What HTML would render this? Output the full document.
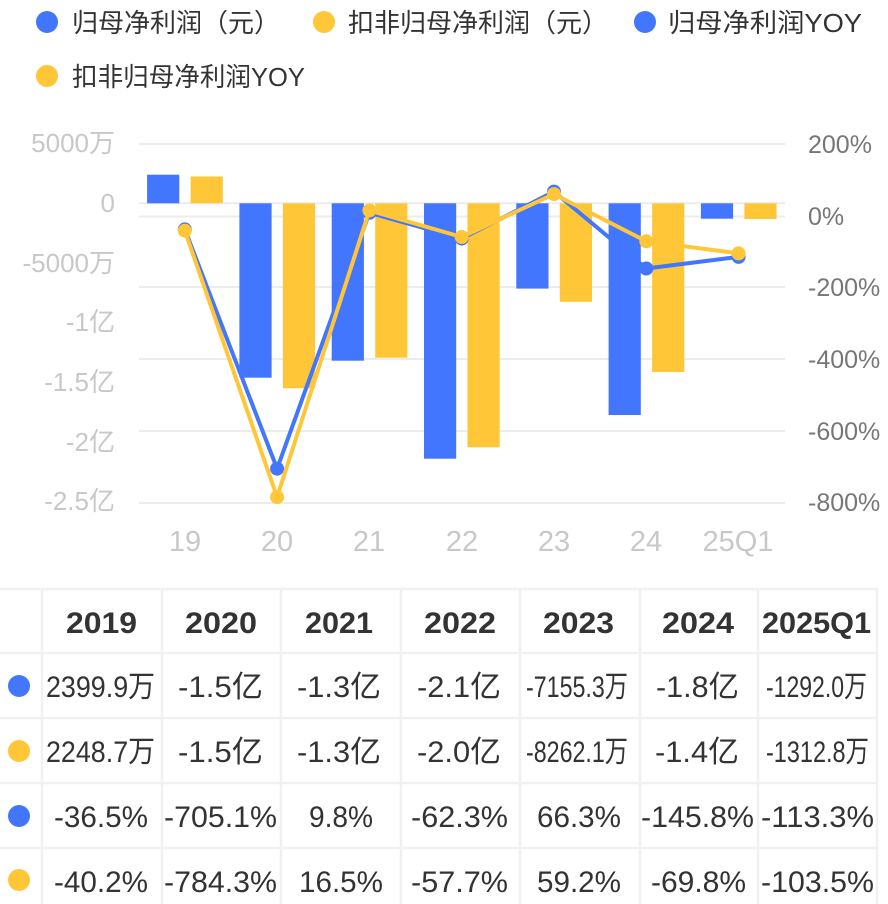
<!DOCTYPE html>
<html><head><meta charset="utf-8"><style>
html,body{margin:0;padding:0;background:#fff;}
svg{display:block;}
text{font-family:"Liberation Sans","Noto Sans CJK SC",sans-serif;}
</style></head><body>
<svg width="888" height="904" viewBox="0 0 888 904" xmlns="http://www.w3.org/2000/svg">
<rect width="888" height="904" fill="#fff"/>
<!-- legend -->
<g font-size="26" fill="#333">
<circle cx="47" cy="22" r="11" fill="#4376FE"/>
<text x="72" y="32">归母净利润（元）</text>
<circle cx="324" cy="22" r="11" fill="#FFC738"/>
<text x="348" y="32">扣非归母净利润（元）</text>
<circle cx="645" cy="22" r="11" fill="#4376FE"/>
<text x="668" y="32" textLength="194" lengthAdjust="spacingAndGlyphs">归母净利润YOY</text>
<circle cx="47" cy="76" r="11" fill="#FFC738"/>
<text x="72" y="86" textLength="233" lengthAdjust="spacingAndGlyphs">扣非归母净利润YOY</text>
</g>
<!-- gridlines -->
<g stroke="#ececec" stroke-width="2">
<line x1="139" y1="144" x2="785" y2="144"/>
<line x1="139" y1="203.3" x2="785" y2="203.3"/>
<line x1="139" y1="216.5" x2="785" y2="216.5"/>
<line x1="139" y1="287" x2="785" y2="287"/>
<line x1="139" y1="359" x2="785" y2="359"/>
<line x1="139" y1="431" x2="785" y2="431"/>
<line x1="139" y1="503" x2="785" y2="503"/>
</g>
<!-- left axis -->
<g font-size="26" fill="#c8c8c8" text-anchor="end">
<text x="115" y="152">5000万</text>
<text x="115" y="212">0</text>
<text x="115" y="272">-5000万</text>
<text x="115" y="331">-1亿</text>
<text x="115" y="391">-1.5亿</text>
<text x="115" y="451">-2亿</text>
<text x="115" y="510">-2.5亿</text>
</g>
<!-- right axis -->
<g font-size="25" fill="#777">
<text x="808" y="153">200%</text>
<text x="808" y="225">0%</text>
<text x="808" y="296">-200%</text>
<text x="808" y="368">-400%</text>
<text x="808" y="440">-600%</text>
<text x="808" y="511">-800%</text>
</g>
<!-- x axis -->
<g font-size="29" fill="#c8c8c8" text-anchor="middle">
<text x="185" y="551">19</text>
<text x="277" y="551">20</text>
<text x="369" y="551">21</text>
<text x="462" y="551">22</text>
<text x="554" y="551">23</text>
<text x="646" y="551">24</text>
<text x="738" y="551">25Q1</text>
</g>
<!-- bars -->
<g fill="#4376FE">
<rect x="147.1" y="174.7" width="32.2" height="28.6"/>
<rect x="239.4" y="203.3" width="32.2" height="174.4"/>
<rect x="331.7" y="203.3" width="32.2" height="157.4"/>
<rect x="424" y="203.3" width="32.2" height="255.4"/>
<rect x="516.3" y="203.3" width="32.2" height="85.3"/>
<rect x="608.6" y="203.3" width="32.2" height="211.7"/>
<rect x="700.9" y="203.3" width="32.2" height="15.4"/>
</g>
<g fill="#FFC738">
<rect x="190.6" y="176.5" width="32.2" height="26.8"/>
<rect x="282.9" y="203.3" width="32.2" height="185"/>
<rect x="375.2" y="203.3" width="32.2" height="154.4"/>
<rect x="467.5" y="203.3" width="32.2" height="244"/>
<rect x="559.8" y="203.3" width="32.2" height="98.5"/>
<rect x="652.1" y="203.3" width="32.2" height="168.7"/>
<rect x="744.4" y="203.3" width="32.2" height="15.7"/>
</g>
<!-- lines -->
<polyline fill="none" stroke="#4376FE" stroke-width="4" stroke-linejoin="round" points="184.8,229.4 277.1,468.7 369.4,212.8 461.7,238.6 554,191.6 646.3,268.5 738.6,256.9"/>
<g fill="#4376FE">
<circle cx="184.8" cy="229.4" r="7"/><circle cx="277.1" cy="468.7" r="7"/><circle cx="369.4" cy="212.8" r="7"/><circle cx="461.7" cy="238.6" r="7"/><circle cx="554" cy="191.6" r="7"/><circle cx="646.3" cy="268.5" r="7"/><circle cx="738.6" cy="256.9" r="7"/>
</g>
<polyline fill="none" stroke="#FFC738" stroke-width="4" stroke-linejoin="round" points="184.8,230.7 277.1,497.1 369.4,210.4 461.7,237 554,194.1 646.3,241.3 738.6,253.4"/>
<g fill="#FFC738">
<circle cx="184.8" cy="230.7" r="7"/><circle cx="277.1" cy="497.1" r="7"/><circle cx="369.4" cy="210.4" r="7"/><circle cx="461.7" cy="237" r="7"/><circle cx="554" cy="194.1" r="7"/><circle cx="646.3" cy="241.3" r="7"/><circle cx="738.6" cy="253.4" r="7"/>
</g>
<!-- table grid -->
<g stroke="#f1f1f4" stroke-width="2.5">
<line x1="0" y1="589" x2="878" y2="589"/>
<line x1="0" y1="653" x2="878" y2="653"/>
<line x1="0" y1="718" x2="878" y2="718"/>
<line x1="0" y1="783" x2="878" y2="783"/>
<line x1="0" y1="848" x2="878" y2="848"/>
<line x1="42" y1="589" x2="42" y2="904"/>
<line x1="162" y1="589" x2="162" y2="904"/>
<line x1="281" y1="589" x2="281" y2="904"/>
<line x1="401" y1="589" x2="401" y2="904"/>
<line x1="520" y1="589" x2="520" y2="904"/>
<line x1="640" y1="589" x2="640" y2="904"/>
<line x1="758" y1="589" x2="758" y2="904"/>
<line x1="877" y1="589" x2="877" y2="904"/>
</g>
<!-- header -->
<g font-size="30" font-weight="bold" fill="#333">
<text x="66" y="633" textLength="71" lengthAdjust="spacingAndGlyphs">2019</text>
<text x="185" y="633" textLength="72" lengthAdjust="spacingAndGlyphs">2020</text>
<text x="305" y="633" textLength="68" lengthAdjust="spacingAndGlyphs">2021</text>
<text x="424" y="633" textLength="72" lengthAdjust="spacingAndGlyphs">2022</text>
<text x="543" y="633" textLength="71" lengthAdjust="spacingAndGlyphs">2023</text>
<text x="662" y="633" textLength="72" lengthAdjust="spacingAndGlyphs">2024</text>
<text x="762" y="633" textLength="109" lengthAdjust="spacingAndGlyphs">2025Q1</text>
</g>
<!-- row dots -->
<circle cx="19" cy="686" r="11" fill="#4376FE"/>
<circle cx="19" cy="751" r="11" fill="#FFC738"/>
<circle cx="19" cy="816" r="11" fill="#4376FE"/>
<circle cx="19" cy="880" r="11" fill="#FFC738"/>
<g font-size="30" fill="#333">
<text x="46" y="697" textLength="109" lengthAdjust="spacingAndGlyphs">2399.9万</text>
<text x="178" y="697" textLength="85" lengthAdjust="spacingAndGlyphs">-1.5亿</text>
<text x="297" y="697" textLength="84" lengthAdjust="spacingAndGlyphs">-1.3亿</text>
<text x="417" y="697" textLength="84" lengthAdjust="spacingAndGlyphs">-2.1亿</text>
<text x="526" y="697" textLength="102" lengthAdjust="spacingAndGlyphs">-7155.3万</text>
<text x="656" y="697" textLength="83" lengthAdjust="spacingAndGlyphs">-1.8亿</text>
<text x="766" y="697" textLength="101" lengthAdjust="spacingAndGlyphs">-1292.0万</text>

<text x="46" y="762" textLength="109" lengthAdjust="spacingAndGlyphs">2248.7万</text>
<text x="178" y="762" textLength="85" lengthAdjust="spacingAndGlyphs">-1.5亿</text>
<text x="297" y="762" textLength="84" lengthAdjust="spacingAndGlyphs">-1.3亿</text>
<text x="417" y="762" textLength="84" lengthAdjust="spacingAndGlyphs">-2.0亿</text>
<text x="526" y="762" textLength="102" lengthAdjust="spacingAndGlyphs">-8262.1万</text>
<text x="655" y="762" textLength="84" lengthAdjust="spacingAndGlyphs">-1.4亿</text>
<text x="766" y="762" textLength="103" lengthAdjust="spacingAndGlyphs">-1312.8万</text>

<text x="54" y="827" textLength="94" lengthAdjust="spacingAndGlyphs">-36.5%</text>
<text x="164" y="827" textLength="113" lengthAdjust="spacingAndGlyphs">-705.1%</text>
<text x="309" y="827" textLength="64" lengthAdjust="spacingAndGlyphs">9.8%</text>
<text x="411" y="827" textLength="97" lengthAdjust="spacingAndGlyphs">-62.3%</text>
<text x="537" y="827" textLength="84" lengthAdjust="spacingAndGlyphs">66.3%</text>
<text x="641" y="827" textLength="113" lengthAdjust="spacingAndGlyphs">-145.8%</text>
<text x="761" y="827" textLength="113" lengthAdjust="spacingAndGlyphs">-113.3%</text>

<text x="54" y="892" textLength="94" lengthAdjust="spacingAndGlyphs">-40.2%</text>
<text x="164" y="892" textLength="113" lengthAdjust="spacingAndGlyphs">-784.3%</text>
<text x="299" y="892" textLength="84" lengthAdjust="spacingAndGlyphs">16.5%</text>
<text x="411" y="892" textLength="97" lengthAdjust="spacingAndGlyphs">-57.7%</text>
<text x="537" y="892" textLength="84" lengthAdjust="spacingAndGlyphs">59.2%</text>
<text x="651" y="892" textLength="95" lengthAdjust="spacingAndGlyphs">-69.8%</text>
<text x="761" y="892" textLength="113" lengthAdjust="spacingAndGlyphs">-103.5%</text>
</g>
</svg>
</body></html>
